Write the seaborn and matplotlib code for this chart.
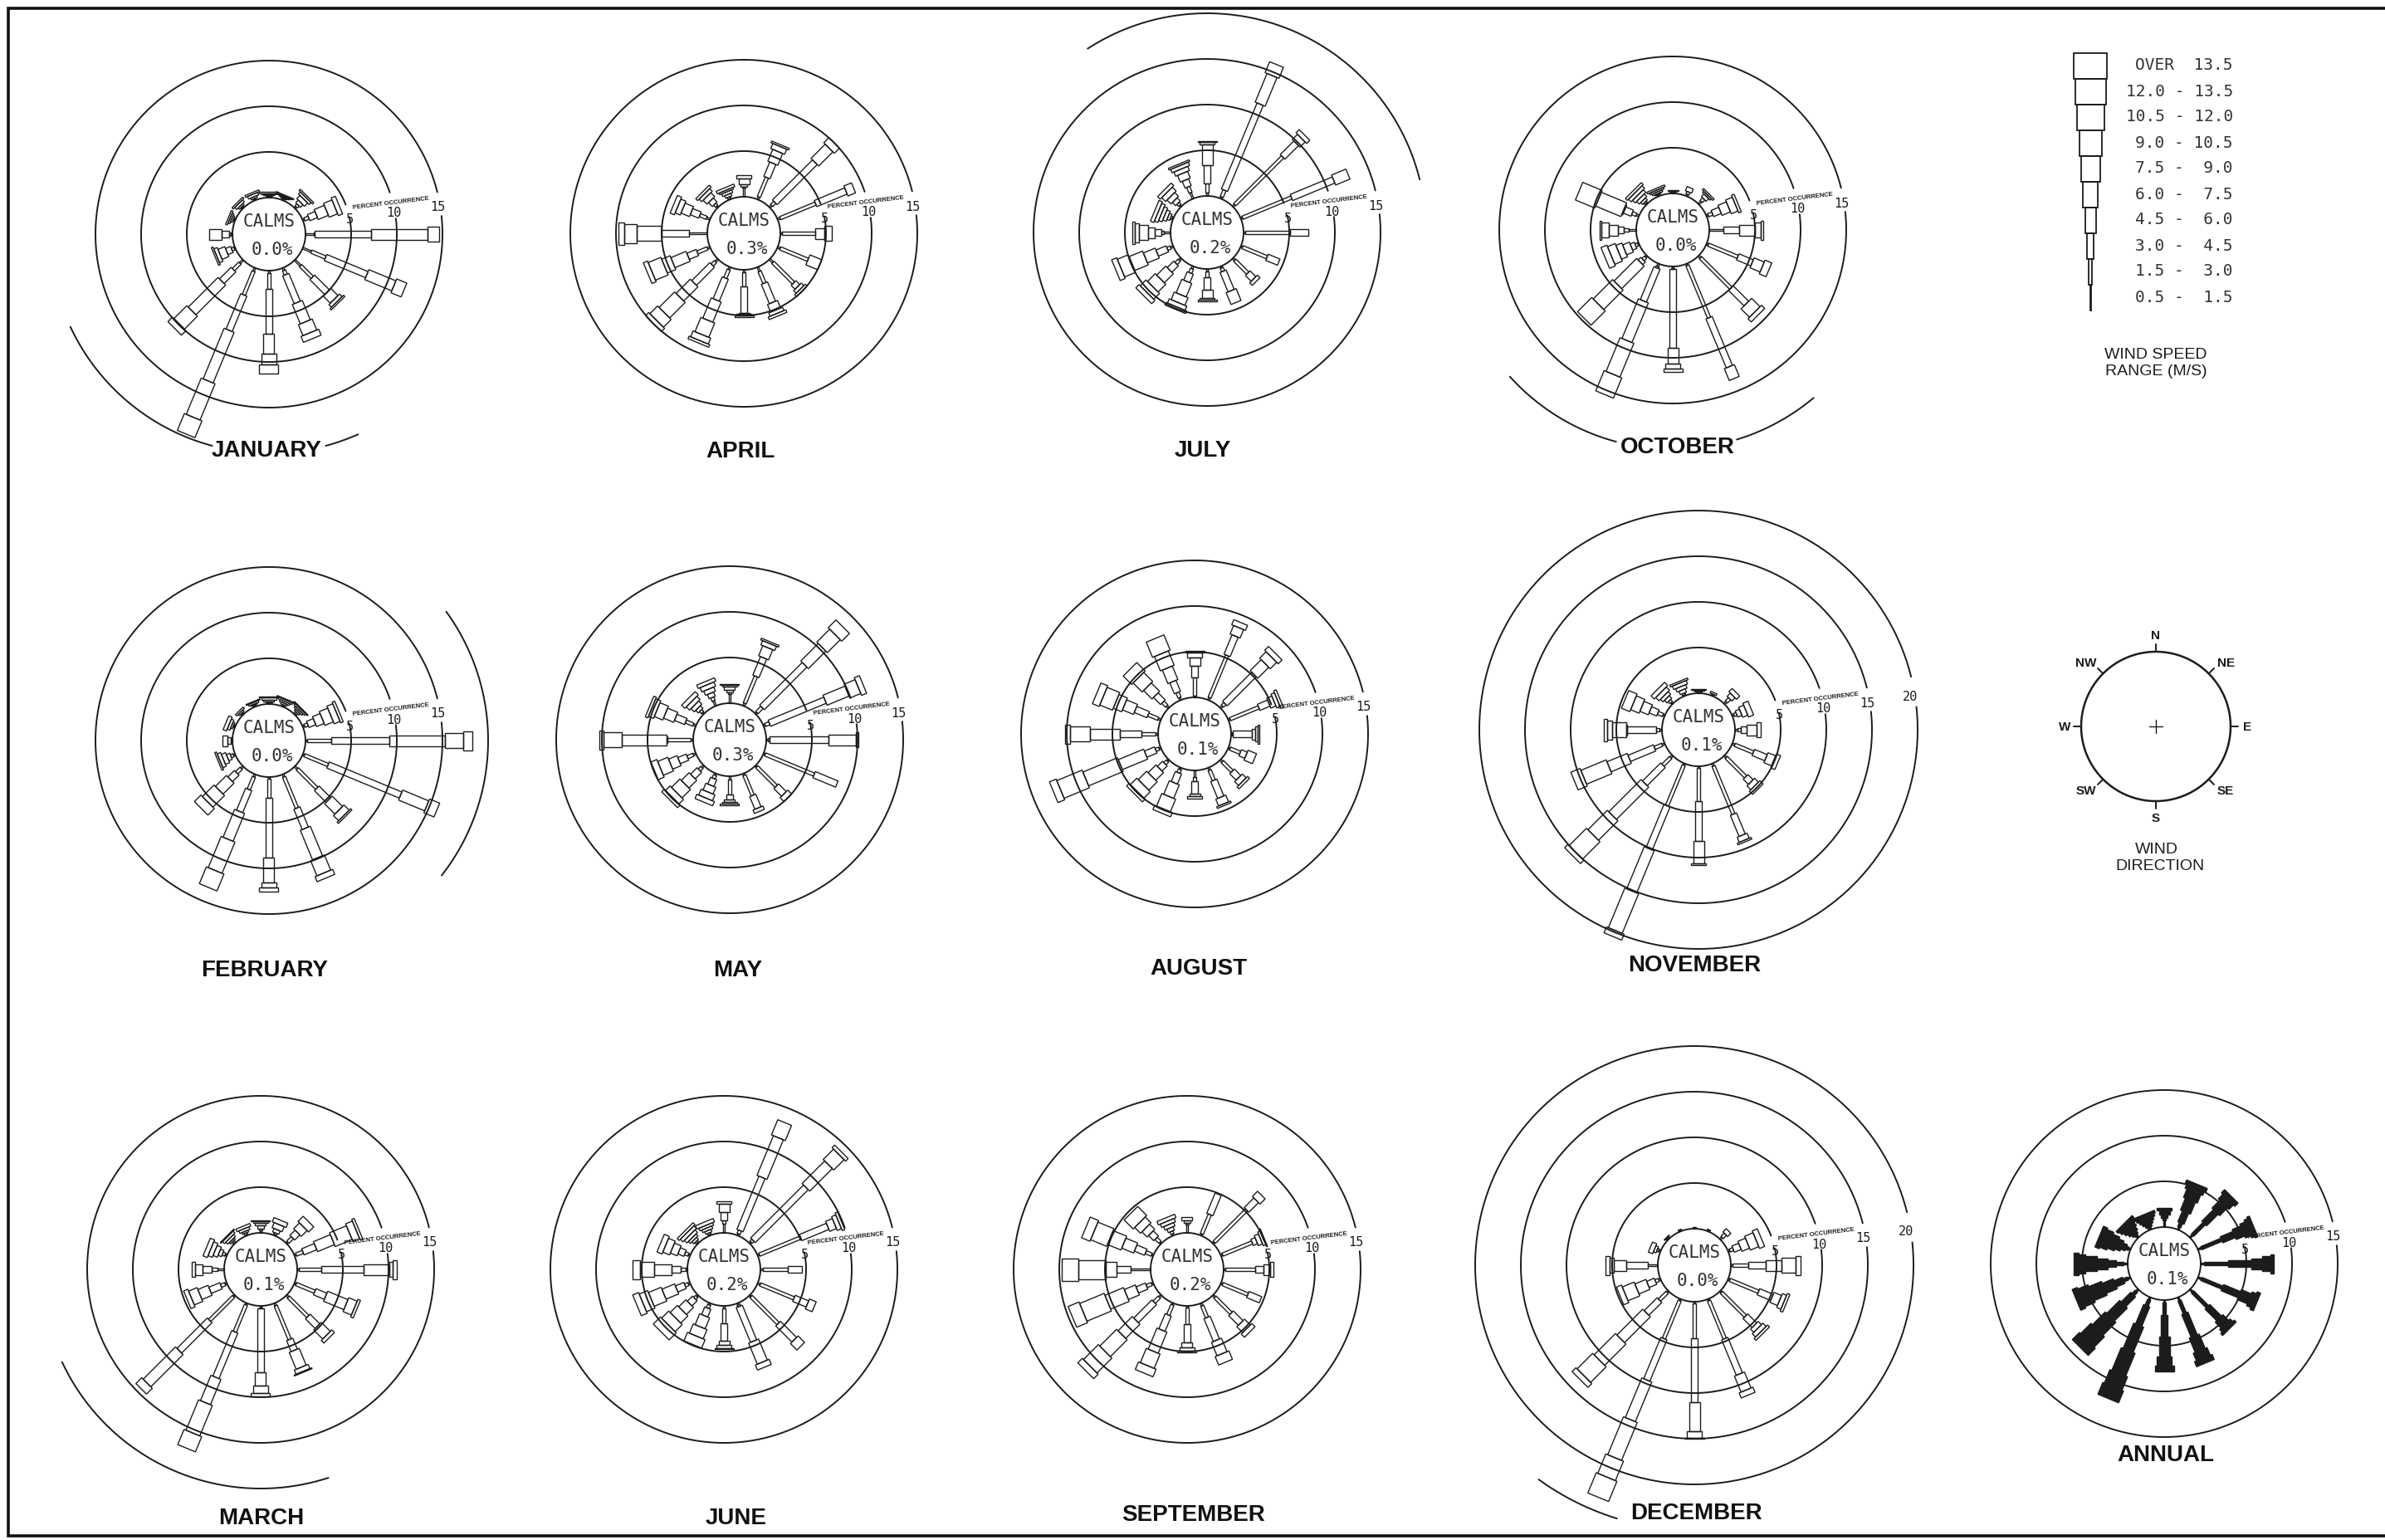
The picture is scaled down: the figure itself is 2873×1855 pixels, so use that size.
import numpy as np
import matplotlib
matplotlib.use("Agg")
import matplotlib.pyplot as plt
import seaborn as sns

# each rose: 16 spokes clockwise from N, each spoke lists percent per speed class
JANUARY = [[.1,.1,.1,.1,.1,.1],[.1,.1,.1,.1,.1,.1],[.2,.3,.4,.5,.3,.2],[.2,.5,.9,1.2,1.0,.5],
           [.9,.1,6.2,6.2,1.2],[1.0,1.7,4.9,3.2,1.2],[.9,1.8,2.3,1.1,.4,.2],[.3,.5,3.3,2.3,1.3,.7],
           [.3,1.7,4.9,2.2,1.2,1.0],[.4,2.8,4.2,6.0,4.3,2.0],[.5,1.0,1.8,4.6,2.0,.7],[.1,.3,.6,.8,.4,.2],
           [.2,.2,.8,1.3],[.1,.1,.2,.2,.2],[.1,.1,.2,.3,.2],[.1,.1,.2,.3,.2]]
FEBRUARY = [[.1,.1,.1,.2,.2,.1],[.1,.1,.2,.2,.2,.1],[.1,.2,.2,.2,.2,.1],[.2,.4,.8,.9,1.0,.7,.3],
            [.2,2.6,6.4,6.1,2.0,1.0],[.2,2.8,8.6,3.1,1.2],[.4,3.0,1.8,1.6,.8,.2],[.3,3.7,2.4,3.5,1.8,.6],
            [.2,2.1,6.5,2.7,.6,.4],[.3,1.5,2.6,3.3,3.7,2.0],[.3,.7,1.0,1.7,1.8,1.0],[.2,.3,.4,.5,.4,.2],
            [.1,.1,.3,.6],[.1,.1,.2,.3,.4],[.1,.1,.2,.2],[.1,.1,.1,.2,.1]]
MARCH = [[.3,.2,.3,.3,.2,.1],[.1,.2,.4,.6,.5],[.2,.7,.8,.9,.8],[.2,.8,1.5,2.0,2.0,.8,.3],
         [.2,2.4,4.7,2.8,.4,.4],[.2,2.2,1.3,2.4,1.0,.3],[.3,3.0,1.5,1.4,.4],[.3,4.0,1.3,2.0,.5,.1],
         [.2,.1,7.0,1.4,.8,.4],[.2,3.2,5.4,3.0,3.6,1.8],[.2,3.7,4.7,5.0,.9],[.2,.5,1.3,1.2,1.0,.5],
         [.7,.7,1.0,.8,.3],[.2,.3,.4,.5,.5,.5],[.1,.2,.2,.3,.3,.1],[.1,.2,.2,.3,.3]]
APRIL = [[1.0,.1,.3,.6,.4],[.3,2.3,1.7,1.4,.6,.2],[.3,.5,6.2,2.2,.8],[.3,4.2,3.6,.9],
         [.2,3.6,0,1.0,.8],[.3,3.3,0,1.4],[.5,3.2,.6,.4,.3],[.5,1.4,2.3,.9,.4,.3],
         [.3,1.5,2.9,.1,.2,.2],[.3,1.0,2.6,2.4,1.7,.7,.3],[.4,.5,2.8,2.2,2.4,1.2,.5],[.3,1.2,1.1,1.8,1.0,1.5,.5],
         [2.0,0,3.0,0,2.7,1.4,.6],[.4,.8,1.0,1.0,.6,.5],[.2,.3,.6,.6,.4,.3],[.1,.2,.3,.3,.2,.3]]
MAY = [[1.0,.2,.3,.3,.2,.1],[.3,3.2,2.2,1.2,.5,.2],[.2,.8,6.6,2.7,2.0,1.2],[.2,.5,6.6,2.6,1.3,.6],
       [.2,.2,6.4,3.0,.3],[.2,5.8,2.7],[.2,3.0,1.2,.6],[.2,2.4,1.5,.4],
       [.4,1.6,.5,.3,.2,.2],[.2,.4,.8,.8,.7,.5],[.3,.4,1.0,1.2,1.3,.7,.4],[.3,.7,1.0,1.0,1.2,.7],
       [.3,2.5,.1,4.9,2.0,.5],[.3,.9,1.2,1.2,1.0,.6,.3],[.2,.3,.4,.5,.5,.5],[.6,.4,.5,.5,.5,.4]]
JUNE = [[1.0,.4,.9,.9,.3],[.2,.4,6.3,4.7,1.8],[.2,.3,8.2,3.5,1.6,.4],[.2,4.9,3.2,.8,.5,.3],
        [.3,2.7,1.5],[.3,4.0,1.6,.8],[.2,4.2,2.5,1.0],[.2,.2,4.1,2.5,.6],
        [.3,1.6,1.9,.5,.3,.1],[.2,.4,.9,1.3,1.1,1.0],[.2,.3,.8,1.1,1.1,1.1,1.1],[.2,.4,1.0,1.5,1.5,1.0,.7],
        [.2,.5,1.0,1.9,1.6,.8],[.2,.4,.7,.8,.8,.6],[.1,.2,.3,.3,.4,.4,.3],[.1,.2,.3,.3,.3,.4]]
JULY = [[.4,1.0,2.0,2.2,.3,.1],[.2,.8,10.2,3.4,1.3],[.3,7.4,2.1,.8,.5],[.2,5.8,5.0,1.7],
        [.2,4.9,2.0],[.2,2.9,1.4],[.3,2.0,.9,.4],[.2,.4,2.3,1.4],
        [.3,.6,1.4,.9,.2,.1],[.3,.5,1.0,1.6,.9,.5,.3],[.3,.5,1.0,1.4,1.2,.9,.5],[.3,.4,1.2,1.4,1.6,1.3,.6],
        [.7,.3,.7,.8,1.0,.4,.3],[.1,.2,.3,.4,.4,.4,.4],[.2,.3,.5,.6,.6,.4],[.7,.7,.8,.8,.5,.4,.2]]
AUGUST = [[.2,2.0,1.3,.9,.5,.2],[.3,5.0,2.3,1.0,.6],[.3,.4,4.5,1.7,1.0,.6],[.2,3.4,1.2,.6,.4,.3],
          [.1,.1,2.1,.3,.3,.2],[.2,1.2,.7,1.0],[.3,1.5,1.0,.6,.3],[.3,1.2,2.0,.8,.2],
          [.7,.5,1.3,.3,.3],[.2,.4,1.2,1.6,1.5,.5],[.2,.4,.8,1.2,1.3,1.0,.4],[.2,.4,1.2,3.0,4.1,3.0,.8],
          [.3,1.5,2.4,3.3,2.1,.6],[.3,1.2,1.5,1.3,1.0,1.5,.8],[.3,.6,1.1,1.3,1.4,1.3],[.3,.6,1.3,1.6,1.7,1.8]]
SEPTEMBER = [[.9,.2,.3,.3],[.2,2.3,2.4],[.2,5.0,1.5,.8],[.2,3.5,.5,.5,.3,.1],
             [.2,3.3,.9,.7,.4],[.2,3.0,1.5],[.3,2.5,1.5,.9,.5],[.3,1.4,2.7,1.6,1.0],
             [.2,1.8,2.0,.5,.4,.2],[.2,1.2,1.8,2.5,1.7,.9],[.3,.8,2.8,2.2,2.6,2.3,.7],[.2,.6,1.1,1.3,2.2,2.9,1.3],
             [2.2,0,1.5,0,1.2,3.0,1.8],[.2,.7,1.2,1.4,1.6,1.9,1.0],[.2,.6,.8,.8,.9,1.4],[.2,.3,.4,.4,.4,.4]]
OCTOBER = [[.1,.1,.1,.1],[.2,.3,.5],[.4,.4,.4,.2,.2],[.2,.5,.9,1.0,.8,.3],
           [1.5,0,1.8,1.7,.6,.3],[.2,3.5,1.7,1.2,.8],[.3,4.7,2.4,0,1.3,.5],[.2,6.2,5.8,1.4],
           [.2,.1,8.6,1.7,.6,.3],[.3,.2,3.9,4.7,4.0,2.4],[.2,.4,.4,3.5,3.0,2.2],[.1,.3,.5,.8,.7,.9,.7],
           [.8,.6,.6,1.0,.8,.2],[.3,.5,.9,.1,3.0,2.3],[.1,.2,.3,.4,.4,.4,.3],[.1,.1,.1,.2,.2,.2]]
NOVEMBER = [[.1,.1,.1,.1,.1],[.1,.1,.2],[.3,.5,.5,.5],[.2,.3,.5,.6,.6],
            [.3,.3,.7,1.1,.4],[.3,2.2,1.5,.9,.5],[.3,3.0,.8,.6,.5],[.3,5.7,2.5,.6,.2],
            [.2,3.6,4.4,2.4,.2],[.2,4.8,5.1,5.0,4.7,.7],[.3,1.2,2.8,5.0,3.0,2.7,.5],[.3,.9,3.0,2.4,3.0,1.1],
            [.3,.3,3.2,.1,1.6,.5,.4],[.2,.6,.9,1.0,1.0,1.0],[.2,.3,.4,.4,.5,.5],[.1,.2,.4,.4,.4,.2]]
DECEMBER = [[.1,.1],[.1,.1],[.3,.5,.5],[.2,.4,.8,.9,1.0,.6],
            [.2,1.7,1.9,1.7,1.6,.5],[.2,3.4,1.6,.9,.5,.3],[.2,3.7,1.4,.5,.5,.3],[.2,4.5,4.2,1.9,.6],
            [.2,3.8,7.0,3.2,.7,.1],[.2,4.5,4.9,4.7,4.5,2.3,2.4],[.2,1.2,2.0,4.0,3.3,2.4,.6],[.2,.4,.9,1.3,1.4,.6],
            [1.1,0,2.4,1.3,.5,.4],[.2,.2,.3,.5],[.1,.1,.1],[.1,.1]]
ANNUAL = [[.7,.3,.4,.4,.3],[.3,.5,1.3,1.4,1.0,.5,.4],[.4,1.8,1.8,1.2,.7,.5],[.4,2.4,1.5,1.0,.6,.4,.3],
          [.4,2.6,2.5,1.2,.9,.4],[.4,2.5,2.0,1.2,.5,.4],[.4,2.3,1.8,.9,.4,.3],[.4,1.5,2.7,1.7,.9,.6],
          [.3,1.3,2.4,2.2,1.0,.6],[.3,.7,2.3,3.0,2.7,1.6,1.4],[.3,.5,1.5,2.0,2.0,1.6,1.1],[.3,.5,1.0,1.3,1.5,1.2,.6],
          [.5,.8,.9,1.2,1.2,.8,.5],[.2,.3,.5,.6,.8,.8,.5],[.2,.2,.3,.4,.4,.4,.3],[.1,.2,.3,.3,.3,.3,.3]]

MONTHS = ["JANUARY", "FEBRUARY", "MARCH", "APRIL", "MAY", "JUNE", "JULY", "AUGUST",
          "SEPTEMBER", "OCTOBER", "NOVEMBER", "DECEMBER", "ANNUAL"]
SPOKES = [JANUARY, FEBRUARY, MARCH, APRIL, MAY, JUNE, JULY, AUGUST,
          SEPTEMBER, OCTOBER, NOVEMBER, DECEMBER, ANNUAL]
CALMS = ["0.0%", "0.0%", "0.1%", "0.3%", "0.3%", "0.2%", "0.2%", "0.1%", "0.2%", "0.0%", "0.1%", "0.0%", "0.1%"]
FULL_RINGS = [[5, 10, 15]] * 10 + [[5, 10, 15, 20]] * 2 + [[5, 10, 15]]

# partial outer rings: percent, start angle, end angle
PARTIAL = {
    "JANUARY": [(20, 205, 255), (20, 285, 294)],
    "FEBRUARY": [(20, -38, 36)],
    "MARCH": [(20, 205, 288)],
    "JULY": [(20, 14, 123)],
    "OCTOBER": [(20, 222, 255), (20, 287, 310)],
    "DECEMBER": [(25, 234, 253)],
}

SPEED_LABELS = ["0.5 -  1.5", "1.5 -  3.0", "3.0 -  4.5", "4.5 -  6.0", "6.0 -  7.5", "7.5 -  9.0",
                "9.0 - 10.5", "10.5 - 12.0", "12.0 - 13.5", "OVER  13.5"]
COMPASS = ["N", "NE", "E", "SE", "S", "SW", "W", "NW"]

# layout, in pixels of the 2873x1856 page
CENTERS = [(324, 283), (324, 893), (314, 1530), (896, 282), (879, 892), (872, 1530), (1454, 281),
           (1439, 885), (1430, 1530), (2015, 278), (2046, 880), (2041, 1525), (2607, 1523)]
TITLE_XY = [(321, 543), (319, 1169), (315, 1829), (892, 544), (889, 1169), (887, 1829), (1449, 543),
            (1444, 1167), (1438, 1825), (2021, 539), (2041, 1163), (2043, 1823), (2609, 1753)]
CLASS_WIDTH = [2, 4, 8, 13, 18, 23, 27, 33, 37, 40]
PX_PER_PCT = 11.0
CALM_PCT = 4.0  # the calm circle takes the room of 4 percent
GAPS = {5: (12, 21), 10: (7, 19), 15: (6, 14), 20: (6, 14)}
RING_LABEL_XY = {5: (97, 18), 10: (150, 26), 15: (203, 33), 20: (255, 41)}
INK = "#1c1c1c"
MONO = "DejaVu Sans Mono"
SANS = "Liberation Sans"

sns.set_theme(style="white")
plt.rcParams["font.family"] = ["Liberation Sans", "DejaVu Sans"]

W, H = 2873, 1856
fig = plt.figure(figsize=(W / 100, H / 100), dpi=100, facecolor="white")

page = fig.add_axes([0, 0, 1, 1])
page.set_xlim(0, W)
page.set_ylim(H, 0)
page.axis("off")


def arc(ax, r, a0, a1, lw=1.4):
    t = np.radians(np.linspace(a0, a1, 180))
    sns.lineplot(x=r * np.cos(t), y=r * np.sin(t), sort=False, estimator=None,
                 color=INK, linewidth=lw, ax=ax, legend=False)


def draw_spoke(ax, angle, lengths, filled):
    c, s = np.cos(np.radians(angle)), np.sin(np.radians(angle))
    r = CALM_PCT
    for k, length in enumerate(lengths):
        if length <= 0:
            continue
        w = CLASS_WIDTH[k] / PX_PER_PCT / 2
        rr = np.array([r, r + length, r + length, r])
        ww = np.array([-w, -w, w, w])
        ax.fill(rr * c - ww * s, rr * s + ww * c,
                facecolor=INK if filled else "none", edgecolor=INK, linewidth=1.0)
        r += length


# the 13 roses
half = 340
for i, name in enumerate(MONTHS):
    cx, cy = CENTERS[i]
    ax = fig.add_axes([(cx - half) / W, 1 - (cy + half) / H, 2 * half / W, 2 * half / H])
    ax.set_xlim(-half / PX_PER_PCT, half / PX_PER_PCT)
    ax.set_ylim(-half / PX_PER_PCT, half / PX_PER_PCT)
    ax.axis("off")
    ax.patch.set_alpha(0)

    arc(ax, CALM_PCT, 0, 360)
    for p in FULL_RINGS[i]:
        g0, g1 = GAPS[p]
        arc(ax, CALM_PCT + p, g1, g0 + 360)
        lx, ly = RING_LABEL_XY[p]
        ax.text(lx / PX_PER_PCT, ly / PX_PER_PCT, str(p), family=MONO, fontsize=11,
                ha="center", va="center", color=INK)
    for p, a0, a1 in PARTIAL.get(name, []):
        arc(ax, CALM_PCT + p, a0, a1)

    for j, lengths in enumerate(SPOKES[i]):
        draw_spoke(ax, 90 - 22.5 * j, lengths, name == "ANNUAL")

    ax.text(147 / PX_PER_PCT, 38 / PX_PER_PCT, "PERCENT OCCURRENCE", fontsize=5.5, fontweight="bold",
            family=SANS, rotation=7, ha="center", va="center", color=INK)
    ax.text(0, 16 / PX_PER_PCT, "CALMS", family=MONO, fontsize=15, ha="center", va="center", color="#333333")
    ax.text(4 / PX_PER_PCT, -18 / PX_PER_PCT, CALMS[i], family=MONO, fontsize=15, ha="center", va="center",
            color="#333333")
    page.text(*TITLE_XY[i], name, fontsize=20, fontweight="bold", family=SANS, ha="center", va="center",
              color="#111111")

# speed legend, bottom class first
for k, label in enumerate(SPEED_LABELS):
    top = 375 - 31 * (k + 1)
    w = CLASS_WIDTH[k] / 2 if k > 0 else 0.5
    page.fill([2518 - w, 2518 + w, 2518 + w, 2518 - w], [top, top, top + 31, top + 31],
              facecolor="none", edgecolor=INK, linewidth=1.3)
    page.text(2690, top + 14, label, family=MONO, fontsize=14, ha="right", va="center", color="#333333")
page.text(2597, 427, "WIND SPEED", fontsize=14, family=SANS, ha="center", va="center", color=INK)
page.text(2597, 448, "RANGE (M/S)", fontsize=14, family=SANS, ha="center", va="center", color=INK)

# wind direction key
kx, ky, kr = 2597, 876, 90
t = np.radians(np.linspace(0, 360, 240))
sns.lineplot(x=kx + kr * np.cos(t), y=ky + kr * np.sin(t), sort=False, estimator=None,
             color=INK, linewidth=1.8, ax=page, legend=False)
page.plot([kx - 8, kx + 8], [ky, ky], color=INK, lw=1)
page.plot([kx, kx], [ky - 8, ky + 8], color=INK, lw=1)
for j, d in enumerate(COMPASS):
    a = np.radians(90 - 45 * j)
    page.plot([kx + kr * np.cos(a), kx + (kr + 9) * np.cos(a)],
              [ky - kr * np.sin(a), ky - (kr + 9) * np.sin(a)], color=INK, lw=1.4)
    off = 20 if j % 2 == 0 else 19
    extra = 7 if j % 2 else 0
    page.text(kx + (kr + off) * np.cos(a) + np.sign(round(np.cos(a), 3)) * extra,
              ky - (kr + off) * np.sin(a), d, fontsize=11, fontweight="bold", family=SANS,
              ha="center", va="center", color=INK)
page.text(2598, 1024, "WIND", fontsize=14, family=SANS, ha="center", va="center", color=INK)
page.text(2602, 1044, "DIRECTION", fontsize=14, family=SANS, ha="center", va="center", color=INK)

# scanned page frame
page.plot([W, 10, 10, W], [11, 11, 1851, 1851], color="#111111", lw=2.6, solid_joinstyle="miter")

fig.savefig("out.png", dpi=100)
